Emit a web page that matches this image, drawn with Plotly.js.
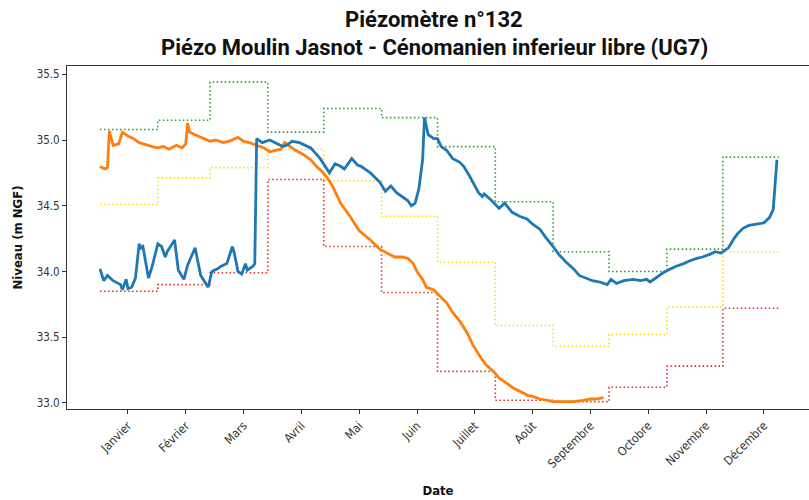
<!DOCTYPE html>
<html>
<head>
<meta charset="utf-8">
<script src="https://cdn.plot.ly/plotly-3.0.1.min.js"></script>
<style>html,body{margin:0;padding:0;background:#fff;}#chart{width:809px;height:500px;}</style>
</head>
<body>
<div id="chart"></div>
<script>
// Chart titles
const titleLine1 = "Piézomètre n°132";
const titleLine2 = "Piézo Moulin Jasnot - Cénomanien inferieur libre (UG7)";
// Month tick labels (positions as day of year)
const monthLabels = ["Janvier","Février","Mars","Avril","Mai","Juin","Juillet","Août","Septembre","Octobre","Novembre","Décembre"];
const tickDays = [15,46,77,108,139,170,201,232,263,294,325,356];
// Monthly step boundaries (day of year)
const monthStarts = [0,31,59,90,120,151,181,212,243,273,304,334,364];
// Monthly reference levels (m NGF)
const greenLevels  = [35.08,35.15,35.44,35.06,35.24,35.17,34.95,34.53,34.15,34.00,34.17,34.87];
const yellowLevels = [34.51,34.71,34.79,34.93,34.69,34.42,34.07,33.59,33.43,33.52,33.73,34.15];
const redLevels    = [33.85,33.90,33.99,34.70,34.19,33.84,33.24,33.02,33.01,33.12,33.28,33.72];

// Previous year series (orange)
const orangeDays = [0,1,3,4,5,7,10,12,15,18,21,25,28,31,34,37,41,44,46,47,48,51,54,57,59,62,66,69,71,74,77,80,84,88,91,94,97,99,102,105,109,113,116,119,122,125,129,134,139,145,150,155,158,162,165,168,170,173,175,179,182,186,189,193,197,200,204,207,211,214,218,222,225,229,232,236,240,243,247,250,254,259,263,266,270];
const orangeVals = [34.80,34.79,34.78,34.79,35.07,34.96,34.97,35.06,35.03,35.01,34.98,34.96,34.95,34.94,34.95,34.93,34.96,34.94,34.97,35.13,35.06,35.04,35.02,35.00,34.99,35.00,34.98,34.99,35.00,35.02,34.99,34.98,34.96,34.94,34.91,34.92,34.93,34.98,34.95,34.92,34.89,34.85,34.80,34.76,34.71,34.64,34.52,34.42,34.31,34.24,34.17,34.13,34.11,34.11,34.10,34.06,34.00,33.94,33.88,33.86,33.82,33.76,33.69,33.62,33.53,33.44,33.35,33.29,33.24,33.19,33.15,33.11,33.09,33.06,33.05,33.03,33.02,33.01,33.01,33.01,33.01,33.02,33.03,33.03,33.04];

// Current year series (blue)
const blueDays = [0,2,4,7,11,12,14,15,17,19,21,22,23,25,26,28,31,33,35,36,39,40,42,45,47,50,51,54,55,58,60,63,65,68,71,72,74,76,78,79,82,83,84,87,91,95,98,100,103,107,113,118,121,123,126,129,131,135,138,140,145,150,153,156,159,165,167,169,171,173,174,176,179,181,183,186,189,193,195,198,203,205,206,210,214,217,221,225,229,232,236,239,243,246,250,254,257,261,264,268,272,274,277,281,286,290,293,295,298,302,306,309,313,316,320,323,327,330,333,337,340,342,345,348,352,356,359,361,363];
const blueVals = [34.02,33.93,33.97,33.93,33.90,33.86,33.94,33.87,33.88,33.95,34.21,34.18,34.19,34.01,33.95,34.04,34.21,34.19,34.11,34.15,34.22,34.24,34.01,33.94,34.05,34.14,34.18,33.97,33.95,33.88,34.00,34.02,34.04,34.06,34.19,34.14,34.00,33.98,34.06,34.01,34.04,34.06,35.01,34.98,35.00,34.97,34.95,34.96,34.99,34.98,34.94,34.86,34.79,34.75,34.82,34.80,34.78,34.86,34.81,34.80,34.75,34.68,34.61,34.65,34.60,34.54,34.50,34.52,34.63,34.85,35.17,35.04,35.01,35.01,34.95,34.92,34.86,34.83,34.80,34.73,34.60,34.57,34.59,34.54,34.48,34.52,34.45,34.42,34.40,34.36,34.32,34.26,34.19,34.13,34.07,34.02,33.97,33.95,33.93,33.92,33.90,33.94,33.91,33.93,33.94,33.93,33.94,33.92,33.95,33.99,34.02,34.04,34.06,34.08,34.10,34.11,34.13,34.15,34.14,34.18,34.25,34.29,34.33,34.35,34.36,34.37,34.41,34.47,34.85];

function steps(vals){ return vals.concat([vals[vals.length-1]]); }

const dotted = "1.5px,2.5px";
const traces = [
  {x: monthStarts, y: steps(greenLevels), mode:"lines", line:{shape:"hv", color:"#2ca02c", width:1.6, dash:dotted}, hoverinfo:"skip"},
  {x: monthStarts, y: steps(yellowLevels), mode:"lines", line:{shape:"hv", color:"#f5dc1a", width:1.6, dash:dotted}, hoverinfo:"skip"},
  {x: monthStarts, y: steps(redLevels), mode:"lines", line:{shape:"hv", color:"#e0302a", width:1.6, dash:dotted}, hoverinfo:"skip"},
  {x: orangeDays, y: orangeVals, mode:"lines", line:{color:"#ff7f0e", width:2.8}},
  {x: blueDays, y: blueVals, mode:"lines", line:{color:"#1f77b4", width:2.8}}
];

const fontFam = "'DejaVu Sans Condensed', 'DejaVu Sans', sans-serif";
const titleFam = "Roboto, 'DejaVu Sans', sans-serif";
const layout = {
  width: 809, height: 500,
  margin: {l:67, r:0, t:66, b:91, pad:0},
  paper_bgcolor: "#fff", plot_bgcolor: "#fff",
  showlegend: false,
  font: {family: fontFam, color: "#333"},
  annotations: [
    {text: "<b>" + titleLine1 + "</b>", xref: "paper", x: 0.495, xanchor: "center",
     yref: "paper", y: 1.136, yanchor: "middle", showarrow: false,
     font: {family: titleFam, size: 22, color: "#111"}},
    {text: "<b>" + titleLine2 + "</b>", xref: "paper", x: 0.495, xanchor: "center",
     yref: "paper", y: 1.054, yanchor: "middle", showarrow: false,
     font: {family: titleFam, size: 22, color: "#111"}}
  ],
  xaxis: {
    range: [-17.7, 380.2],
    tickmode: "array", tickvals: tickDays, ticktext: monthLabels,
    tickangle: -45, ticks: "outside", ticklen: 4, tickcolor: "#333",
    tickfont: {size: 12, color: "#333", family: fontFam},
    showgrid: false, zeroline: false,
    showline: true, linecolor: "#333", linewidth: 1, mirror: true,
    title: {text: "<b>Date</b>", font: {size: 13, color: "#111", family: fontFam}, standoff: 16}
  },
  yaxis: {
    range: [32.954, 35.563],
    tickvals: [33.0,33.5,34.0,34.5,35.0,35.5],
    ticktext: ["33.0","33.5","34.0","34.5","35.0","35.5"],
    ticks: "outside", ticklen: 4, tickcolor: "#333",
    tickfont: {size: 11.5, color: "#333", family: fontFam},
    showgrid: false, zeroline: false,
    showline: true, linecolor: "#333", linewidth: 1, mirror: false,
    title: {text: "<b>Niveau (m NGF)</b>", font: {size: 13, color: "#111", family: fontFam}, standoff: 11}
  }
};

Plotly.newPlot("chart", traces, layout, {staticPlot: true, displayModeBar: false});
</script>
</body>
</html>
